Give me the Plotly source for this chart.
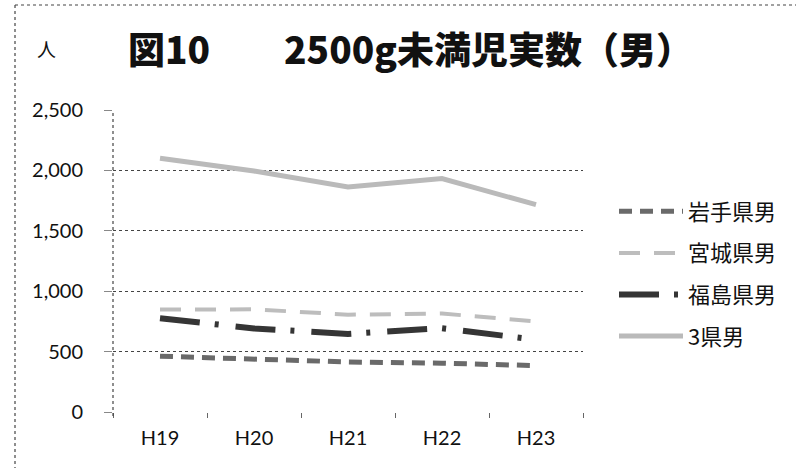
import plotly.graph_objects as go

# Fiscal years (Heisei)
years = ["H19", "H20", "H21", "H22", "H23"]

# Number of male births under 2500 g
iwate = [462, 436, 414, 404, 384]
miyagi = [848, 850, 806, 815, 750]
fukushima = [776, 692, 646, 694, 598]
three_pref = [2100, 1995, 1862, 1932, 1716]

series_names = ["岩手県男", "宮城県男", "福島県男", "3県男"]
series_values = [iwate, miyagi, fukushima, three_pref]
series_styles = [
    dict(color="#6a6a6a", width=5, dash="13px,8px"),
    dict(color="#bdbdbd", width=4, dash="21px,14px"),
    dict(color="#353535", width=6, dash="40px,15px,4px,17px"),
    dict(color="#bababa", width=5, dash="solid"),
]

y_ticks = [0, 500, 1000, 1500, 2000, 2500]
y_ticktext = ["0", "500", "1,000", "1,500", "2,000", "2,500"]

FONT = "Lato, 'Noto Sans CJK JP', sans-serif"
CJK = "'Noto Sans CJK JP', sans-serif"

fig = go.Figure()
for i, (name, vals, style) in enumerate(zip(series_names, series_values, series_styles)):
    fig.add_trace(go.Scatter(
        x=years, y=vals, name=name, mode="lines",
        line=style, legendgroup=f"g{i}",
    ))

# plot area in pixels: x 113..583, y 110..412
L, R, T, B = 113, 583, 110, 412
W, H = R - L, B - T


def px(x):
    return (x - L) / W


def py(y):
    return (B - y) / H


dot = dict(color="#444444", width=1.2, dash="dot")
shapes = [
    # outer dotted frame (left and top)
    dict(type="line", xref="paper", yref="paper", x0=px(15), x1=px(15), y0=py(5), y1=py(468), line=dot),
    dict(type="line", xref="paper", yref="paper", x0=px(15), x1=px(796), y0=py(5), y1=py(5), line=dot),
    # dotted vertical axis line
    dict(type="line", xref="paper", yref="paper", x0=0, x1=0, y0=py(416), y1=1, line=dot),
]

annotations = [
    dict(text="人", xref="paper", yref="paper", x=px(46), y=py(48), showarrow=False,
         font=dict(family=CJK, size=19, color="#111111"), xanchor="center", yanchor="middle"),
    dict(text="図10　　2500g未満児実数（男）", xref="paper", yref="paper",
         x=px(410), y=py(48), showarrow=False,
         font=dict(family=CJK, size=37, color="#111111", weight=900),
         xanchor="center", yanchor="middle"),
]

fig.update_layout(
    width=796, height=468,
    margin=dict(l=L, r=796 - R, t=T, b=468 - B),
    paper_bgcolor="white", plot_bgcolor="white",
    font=dict(family=FONT, size=20, color="#111111"),
    showlegend=True,
    legend=dict(
        x=px(614), xanchor="left", y=py(274), yanchor="middle",
        font=dict(family=CJK, size=22, color="#111111"),
        traceorder="grouped", tracegroupgap=10, itemwidth=64,
        bgcolor="rgba(0,0,0,0)",
    ),
    shapes=shapes,
    annotations=annotations,
)

fig.update_xaxes(
    type="category", range=[-0.5, 4.5], tickson="boundaries",
    ticks="outside", ticklen=5, tickcolor="#666666", tickwidth=1,
    showgrid=False, showline=False, zeroline=False,
    tickfont=dict(family=FONT, size=20), ticklabelstandoff=12,
)
fig.update_yaxes(
    range=[0, 2500], tickvals=y_ticks, ticktext=y_ticktext,
    showgrid=True, gridcolor="#444444", gridwidth=1, griddash="dot",
    ticks="outside", ticklen=8, tickcolor="#888888", tickwidth=1,
    showline=False, zeroline=False,
    tickfont=dict(family=FONT, size=20), ticklabelstandoff=17,
)

fig.write_html("out.html")
